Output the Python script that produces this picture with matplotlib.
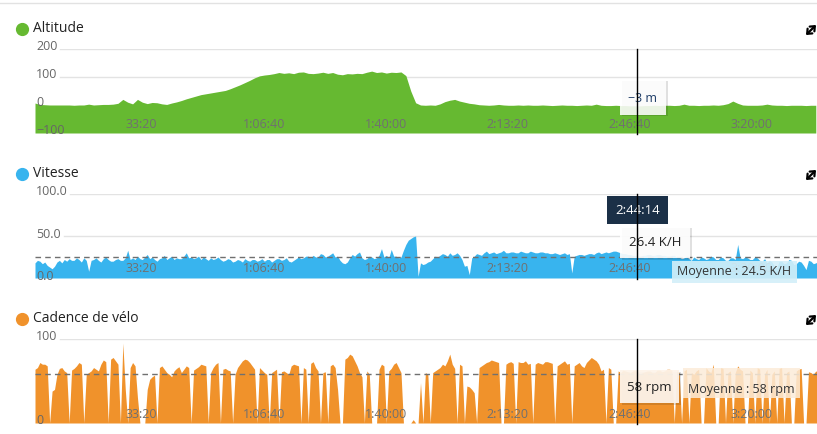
import numpy as np
import matplotlib
matplotlib.use("Agg")
import matplotlib.pyplot as plt
import matplotlib.transforms as mtransforms
from matplotlib.patches import Rectangle, FancyArrowPatch
from matplotlib.lines import Line2D

plt.rcParams['font.family'] = ['Open Sans', 'DejaVu Sans']

# ---------------- data ----------------
START_SEC = 250
ALT_SAMPLE_SEC = 80      # altitude sampling
FINE_SAMPLE_SEC = 40     # speed & cadence sampling

altitude = [7, 2, 1, 0, 0, 0, 0, 0, -1, 0,
            0, 3, 0, 1, 2, 2, 3, 6, 20, 10,
            4, 20, 10, 5, 9, 8, 4, 2, 7, 11,
            16, 22, 27, 32, 37, 40, 43, 46, 49, 52,
            58, 65, 72, 80, 88, 97, 104, 107, 109, 112,
            116, 113, 115, 112, 117, 118, 113, 112, 114, 117,
            113, 116, 110, 108, 112, 111, 113, 112, 117, 121,
            116, 118, 114, 117, 116, 118, 105, 50, 8, 0,
            -1, 0, -1, 4, 12, 17, 20, 14, 10, 6,
            4, 1, 0, -1, 0, 2, 0, -1, -1, 0,
            -1, 0, -1, -1, 0, -1, -2, -1, 0, -1,
            -1, -2, -1, 0, -1, 3, -1, -2, -2, -1,
            -2, -2, -3, -3, -3, -2, -2, -1, -2, -1,
            -1, -2, -1, 3, -1, -1, -2, -1, -1, 0,
            -1, 1, 5, 14, 6, 0, -1, -1, -1, 0,
            3, 0, -1, -1, -2, -1, -1, -1, -2, -1,
            -1]

speed = [18, 21, 20, 17, 19, 15, 13, 11, 14, 19, 21, 18, 22, 20, 23, 21, 21, 24, 22, 19,
         24, 21, 8, 21, 22, 24, 21, 19, 23, 25, 22, 20, 20, 22, 23, 21, 21, 24, 33, 22,
         24, 22, 26, 23, 22, 25, 28, 23, 25, 22, 20, 23, 24, 27, 22, 24, 26, 22, 24, 23,
         23, 26, 30, 24, 25, 23, 24, 26, 22, 25, 23, 21, 24, 22, 23, 25, 22, 20, 21, 23,
         22, 19, 20, 22, 21, 19, 23, 21, 20, 22, 22, 20, 21, 23, 20, 22, 22, 19, 21, 23,
         23, 21, 22, 24, 20, 19, 21, 23, 25, 23, 24, 26, 26, 24, 27, 25, 25, 29, 28, 25,
         26, 28, 30, 25, 26, 21, 18, 17, 19, 24, 28, 26, 29, 31, 24, 22, 23, 26, 25, 23,
         24, 27, 35, 25, 27, 24, 34, 26, 26, 24, 25, 33, 40, 45, 47, 49, 50, 2, 18, 16,
         17, 19, 20, 23, 26, 25, 27, 29, 28, 26, 30, 27, 28, 30, 27, 22, 14, 15, 4, 24,
         26, 29, 28, 27, 30, 32, 29, 30, 31, 29, 30, 31, 33, 30, 30, 31, 31, 30, 30, 32,
         31, 30, 30, 32, 31, 30, 30, 31, 31, 30, 30, 29, 29, 30, 29, 28, 29, 30, 28, 29,
         6, 26, 27, 28, 28, 27, 28, 29, 29, 28, 30, 31, 29, 30, 31, 30, 31, 32, 32, 31,
         30, 29, 29, 28, 28, 27, 27, 26, 26, 27, 27, 28, 28, 27, 27, 28, 28, 27, 27, 26,
         26, 27, 27, 25, 25, 23, 24, 26, 23, 21, 25, 23, 22, 25, 24, 22, 23, 26, 25, 22,
         22, 25, 24, 21, 21, 24, 24, 22, 40, 24, 23, 25, 24, 22, 22, 25, 24, 21, 20, 23,
         18, 21, 19, 14, 12, 20, 20, 17, 18, 22, 21, 16, 17, 20, 19, 15, 10, 21, 20, 17,
         18, 20]

cadence = [64, 66, 72, 70, 70, 68, 0, 38, 40, 58, 65, 66, 62, 60, 0, 63, 65, 68, 72, 70,
           0, 58, 60, 62, 66, 64, 62, 70, 75, 73, 0, 76, 78, 74, 70, 0, 95, 40, 0, 66,
           72, 68, 30, 0, 0, 0, 40, 52, 55, 57, 0, 66, 68, 64, 60, 58, 55, 62, 65, 67,
           60, 64, 68, 66, 0, 63, 65, 67, 70, 69, 68, 0, 60, 66, 70, 72, 0, 64, 65, 63,
           62, 0, 58, 66, 70, 74, 76, 75, 72, 68, 64, 0, 66, 63, 60, 58, 0, 60, 62, 64,
           0, 61, 62, 60, 58, 68, 70, 69, 68, 0, 66, 64, 0, 71, 73, 66, 62, 0, 60, 61,
           0, 68, 70, 66, 40, 0, 0, 76, 78, 82, 80, 74, 68, 60, 55, 0, 62, 58, 0, 0,
           0, 64, 70, 68, 0, 62, 65, 70, 72, 66, 60, 0, 0, 0, 0, 4, 0, 0, 48, 0,
           60, 58, 0, 60, 62, 64, 66, 70, 68, 74, 82, 70, 65, 0, 70, 68, 0, 44, 43, 40,
           36, 0, 66, 68, 70, 72, 73, 75, 74, 73, 72, 0, 0, 70, 72, 73, 71, 0, 73, 72,
           72, 74, 70, 71, 0, 70, 72, 71, 70, 73, 73, 72, 71, 0, 68, 70, 72, 74, 70, 71,
           0, 68, 70, 72, 68, 66, 72, 75, 78, 76, 74, 70, 62, 64, 0, 66, 64, 0, 0, 62,
           60, 63, 62, 61, 60, 62, 63, 61, 58, 60, 61, 62, 62, 60, 60, 63, 63, 61, 62, 64,
           64, 63, 0, 62, 60, 0, 62, 64, 0, 60, 58, 62, 64, 0, 0, 66, 62, 60, 70, 0,
           0, 66, 65, 0, 60, 62, 0, 60, 68, 64, 62, 0, 0, 63, 60, 0, 66, 64, 0, 58,
           64, 0, 58, 62, 0, 65, 66, 0, 60, 62, 0, 0, 62, 64, 65, 0, 0, 61, 60, 58,
           62, 60]

speed_mean = 24.5
cadence_mean = 58

x_ticks = [2000, 4000, 6000, 8000, 10000, 12000]
x_labels = ["33:20", "1:06:40", "1:40:00", "2:13:20", "2:46:40", "3:20:00"]
x_range = (250, 13070)

alt_ticks = [200, 100, 0, -100]
alt_labels = ["200", "100", "0", "\u2212100"]
speed_ticks = [100, 50, 0]
speed_labels = ["100.0", "50.0", "0.0"]
cad_ticks = [100, 0]
cad_labels = ["100", "0"]

cursor_sec = 10120
cursor_time = "2:44:14"
alt_tip = "\u22123 m"
speed_tip = "26.4 K/H"
cad_tip = "58 rpm"
speed_mean_label = "Moyenne : 24.5 K/H"
cad_mean_label = "Moyenne : 58 rpm"

titles = ["Altitude", "Vitesse", "Cadence de vélo"]
colors = ["#66b931", "#38b4ee", "#f0922b"]

# ---------------- layout ----------------
W, H = 817, 434
fig = plt.figure(figsize=(W / 100, H / 100), dpi=100)
fig.patch.set_facecolor("white")

alt_times = START_SEC + ALT_SAMPLE_SEC * np.arange(len(altitude))
spd_times = START_SEC + FINE_SAMPLE_SEC * np.arange(len(speed))
cad_times = START_SEC + FINE_SAMPLE_SEC * np.arange(len(cadence))


def fx(x):
    return x / W


def fy(y):
    return 1 - y / H


def make_ax(top, bottom):
    ax = fig.add_axes([fx(35), fy(bottom), fx(817) - fx(35), (bottom - top) / H])
    ax.set_xlim(*x_range)
    for s in ax.spines.values():
        s.set_visible(False)
    ax.set_xticks([])
    ax.set_yticks([])
    ax.patch.set_alpha(0)
    return ax


ax1 = make_ax(49, 133)
ax2 = make_ax(194, 278)
ax3 = make_ax(339, 423)
ax1.set_ylim(-100, 200)
ax2.set_ylim(0, 100)
ax3.set_ylim(0, 100)

ax1.fill_between(alt_times, altitude, -100, color=colors[0], lw=0, zorder=2)
ax2.fill_between(spd_times, speed, 0, color=colors[1], lw=0, zorder=2)
ax3.fill_between(cad_times, cadence, 0, color=colors[2], lw=0, zorder=2)

label_color = "#666666"


def y_axis(ax, ticks, labels, grid_start):
    for v, lab, gs in zip(ticks, labels, grid_start):
        if gs is not None:
            ax.axhline(v, xmin=gs, xmax=1, color="#e3e3e3", lw=1, zorder=0)
        tr = mtransforms.offset_copy(ax.get_yaxis_transform(), fig=fig, x=1, y=2, units="dots")
        ax.text(0, v, lab, transform=tr, ha="left", va="center", fontsize=9,
                color=label_color, zorder=5, clip_on=False)


def x_axis(ax, dy):
    tr = mtransforms.offset_copy(ax.get_xaxis_transform(), fig=fig, x=0, y=dy, units="dots")
    for t, lab in zip(x_ticks, x_labels):
        ax.text(t, 0, lab, transform=tr, ha="center", va="center", fontsize=9,
                color="#707070", zorder=5, clip_on=False)


y_axis(ax1, alt_ticks, alt_labels, [0.032, 0.032, None, None])
y_axis(ax2, speed_ticks, speed_labels, [0.045, 0.037, None])
y_axis(ax3, cad_ticks, cad_labels, [0.032, None])
x_axis(ax1, 8)
x_axis(ax2, 9)
x_axis(ax3, 9)

ax2.axhline(speed_mean, color="#707070", lw=1, dashes=(4, 3), zorder=3)
ax3.axhline(cadence_mean, color="#707070", lw=1, dashes=(4, 3), zorder=3)

# top border line
fig.add_artist(Line2D([0, 1], [fy(2.5), fy(2.5)], transform=fig.transFigure,
                      color="#e2e2e2", lw=1))

# titles with colored dots and expand icons
for (ty, title, col) in zip([29, 174, 319], titles, colors):
    fig.add_artist(Line2D([fx(22)], [fy(ty)], marker="o", markersize=8.5,
                          color=col, transform=fig.transFigure, lw=0))
    fig.text(fx(33), fy(ty), title, ha="left", va="center", fontsize=10, color="#222222")
    fig.add_artist(FancyArrowPatch((fx(806), fy(ty + 6)), (fx(816), fy(ty - 4)),
                                   arrowstyle="<->,head_length=0.35,head_width=0.3",
                                   mutation_scale=8, lw=1.6, shrinkA=0, shrinkB=0,
                                   color="black", transform=fig.transFigure))


def box(x0, y0, x1, y1, face, alpha=1.0, shadow=True, z=6):
    if shadow:
        fig.add_artist(Rectangle((fx(x0 + 1.5), fy(y1 + 1.5)), fx(x1 - x0), (y1 - y0) / H,
                                 transform=fig.transFigure, facecolor="#000000",
                                 alpha=0.12, lw=0, zorder=z))
    fig.add_artist(Rectangle((fx(x0), fy(y1)), fx(x1 - x0), (y1 - y0) / H,
                             transform=fig.transFigure, facecolor=face,
                             alpha=alpha, lw=0, zorder=z))


# altitude tooltip
box(620, 80, 666, 115, "white", alpha=0.88)
fig.text(fx(643), fy(98), alt_tip, ha="center", va="center", fontsize=9,
         color="#1d3b66", zorder=8)

# speed tooltips
box(607, 196, 668, 224, "#1b3047", shadow=False)
fig.text(fx(637.5), fy(210), cursor_time, ha="center", va="center", fontsize=9.5,
         color="white", zorder=8)
box(620, 226, 690, 258, "white", alpha=0.9)
fig.text(fx(655), fy(242), speed_tip, ha="center", va="center", fontsize=9.5,
         color="#222222", zorder=8)
box(672, 261, 797, 283, "#d3eff9", alpha=0.9, shadow=False)
fig.text(fx(734), fy(272), speed_mean_label, ha="center", va="center", fontsize=9,
         color="#333333", zorder=8)

# cadence tooltips
box(620, 370, 679, 403, "#fdf4ea", alpha=0.95)
fig.text(fx(649), fy(387), cad_tip, ha="center", va="center", fontsize=9.5,
         color="#222222", zorder=8)
box(683, 368, 800, 398, "#fcecd9", alpha=0.85, shadow=False)
fig.text(fx(741), fy(389), cad_mean_label, ha="center", va="center", fontsize=9,
         color="#333333", zorder=8)

# cursor lines (on top of tooltips)
for ax, (top, bottom) in zip([ax1, ax2, ax3], [(49, 133), (194, 278), (339, 423)]):
    tr = mtransforms.blended_transform_factory(ax.transData, fig.transFigure)
    fig.add_artist(Line2D([cursor_sec, cursor_sec], [fy(top), fy(bottom + 1)],
                          transform=tr, color="black", lw=1, zorder=9))

fig.savefig("out.png", dpi=100)
